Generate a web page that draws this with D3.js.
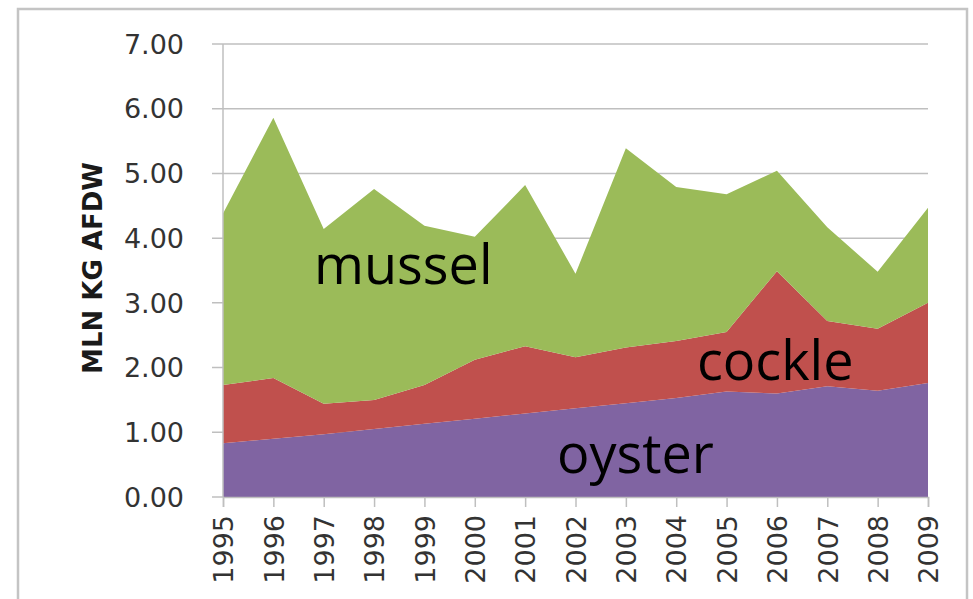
<!DOCTYPE html>
<html>
<head>
<meta charset="utf-8">
<script src="https://cdn.jsdelivr.net/npm/d3@7"></script>
<style>
	body { margin: 0; background: #fff; }
	svg { display: block; }
</style>
</head>
<body>
<div id="chart"></div>
<script>
// data (mln kg AFDW)
var years = [1995, 1996, 1997, 1998, 1999, 2000, 2001, 2002, 2003, 2004, 2005, 2006, 2007, 2008, 2009];
var oyster = [0.83, 0.90, 0.97, 1.05, 1.13, 1.21, 1.29, 1.37, 1.45, 1.53, 1.63, 1.60, 1.71, 1.64, 1.76];
var cockle = [0.90, 0.94, 0.47, 0.45, 0.60, 0.91, 1.04, 0.79, 0.86, 0.88, 0.92, 1.89, 1.01, 0.96, 1.24];
var mussel = [2.65, 4.02, 2.70, 3.26, 2.46, 1.90, 2.49, 1.29, 3.08, 2.38, 2.13, 1.55, 1.45, 0.88, 1.47];
var yTicks = [0, 1, 2, 3, 4, 5, 6, 7];
var seriesNames = ['oyster', 'cockle', 'mussel'];
var seriesLabels = {oyster: 'oyster', cockle: 'cockle', mussel: 'mussel'};

var width = 973, height = 599;
var margin = {left: 223, right: 45, top: 44, bottom: 102};
var colors = {oyster: '#8064a2', cockle: '#c0504d', mussel: '#9bbb59'};

var svg = d3.select('#chart').append('svg')
	.attr('width', width)
	.attr('height', height);

// outer frame
svg.append('rect')
	.attr('x', 18).attr('y', 9)
	.attr('width', 949).attr('height', 620)
	.attr('fill', 'none')
	.attr('stroke', '#c4c4c4')
	.attr('stroke-width', 2.5);

var x = d3.scaleLinear()
	.domain([years[0], years[years.length - 1]])
	.range([margin.left, width - margin.right]);
var y = d3.scaleLinear()
	.domain([0, 7])
	.range([height - margin.bottom, margin.top]);

var rows = years.map(function (yr, i) {
	return {year: yr, oyster: oyster[i], cockle: cockle[i], mussel: mussel[i]};
});
var stacked = d3.stack().keys(seriesNames)(rows);

// gridlines
svg.append('g')
	.selectAll('line')
	.data(yTicks)
	.enter().append('line')
	.attr('x1', margin.left - 11)
	.attr('x2', x.range()[1])
	.attr('y1', function (d) { return y(d); })
	.attr('y2', function (d) { return y(d); })
	.attr('stroke', '#bfbfbf')
	.attr('stroke-width', 1.5);

// areas
var area = d3.area()
	.x(function (d) { return x(d.data.year); })
	.y0(function (d) { return y(d[0]); })
	.y1(function (d) { return y(d[1]); });

svg.append('g')
	.selectAll('path')
	.data(stacked)
	.enter().append('path')
	.attr('d', area)
	.attr('fill', function (d) { return colors[d.key]; });

// y axis line
svg.append('line')
	.attr('x1', margin.left).attr('x2', margin.left)
	.attr('y1', y(7)).attr('y2', y(0))
	.attr('stroke', '#bfbfbf')
	.attr('stroke-width', 1.5);

// y tick labels
svg.append('g')
	.selectAll('text')
	.data(yTicks)
	.enter().append('text')
	.attr('x', 184)
	.attr('y', function (d) { return y(d); })
	.attr('dy', '0.36em')
	.attr('text-anchor', 'end')
	.attr('font-family', 'DejaVu Sans')
	.attr('font-size', 27)
	.attr('fill', '#333')
	.text(function (d) { return d3.format('.2f')(d); });

// x axis ticks
var xAxis = d3.axisBottom(x)
	.tickValues(years)
	.tickSize(10)
	.tickFormat(d3.format('d'));
var gx = svg.append('g')
	.attr('transform', 'translate(0,' + y(0) + ')')
	.call(xAxis);
gx.select('.domain').attr('stroke', '#bfbfbf').attr('stroke-width', 1.5);
gx.selectAll('.tick line').attr('stroke', '#bfbfbf').attr('stroke-width', 1.5);
gx.selectAll('.tick text')
	.attr('font-family', 'DejaVu Sans')
	.attr('font-size', 27)
	.attr('fill', '#333')
	.attr('text-anchor', 'end')
	.attr('transform', 'translate(0,18) rotate(-90)')
	.attr('x', 0)
	.attr('y', 0)
	.attr('dy', '0.36em');

// y axis title
svg.append('text')
	.attr('transform', 'translate(93,' + 268 + ') rotate(-90)')
	.attr('text-anchor', 'middle')
	.attr('dy', '0.36em')
	.attr('font-family', 'DejaVu Sans')
	.attr('font-weight', 'bold')
	.attr('font-size', 26)
	.attr('fill', '#1a1a1a')
	.text('MLN KG AFDW');

// series labels inside the areas
var labelPos = {mussel: [314, 284], cockle: [697, 380], oyster: [557, 473]};
svg.append('g')
	.selectAll('text')
	.data(seriesNames)
	.enter().append('text')
	.attr('x', function (d) { return labelPos[d][0]; })
	.attr('y', function (d) { return labelPos[d][1]; })
	.attr('font-family', 'Open Sans')
	.attr('font-size', 54)
	.attr('fill', '#000')
	.text(function (d) { return seriesLabels[d]; });
</script>
</body>
</html>
